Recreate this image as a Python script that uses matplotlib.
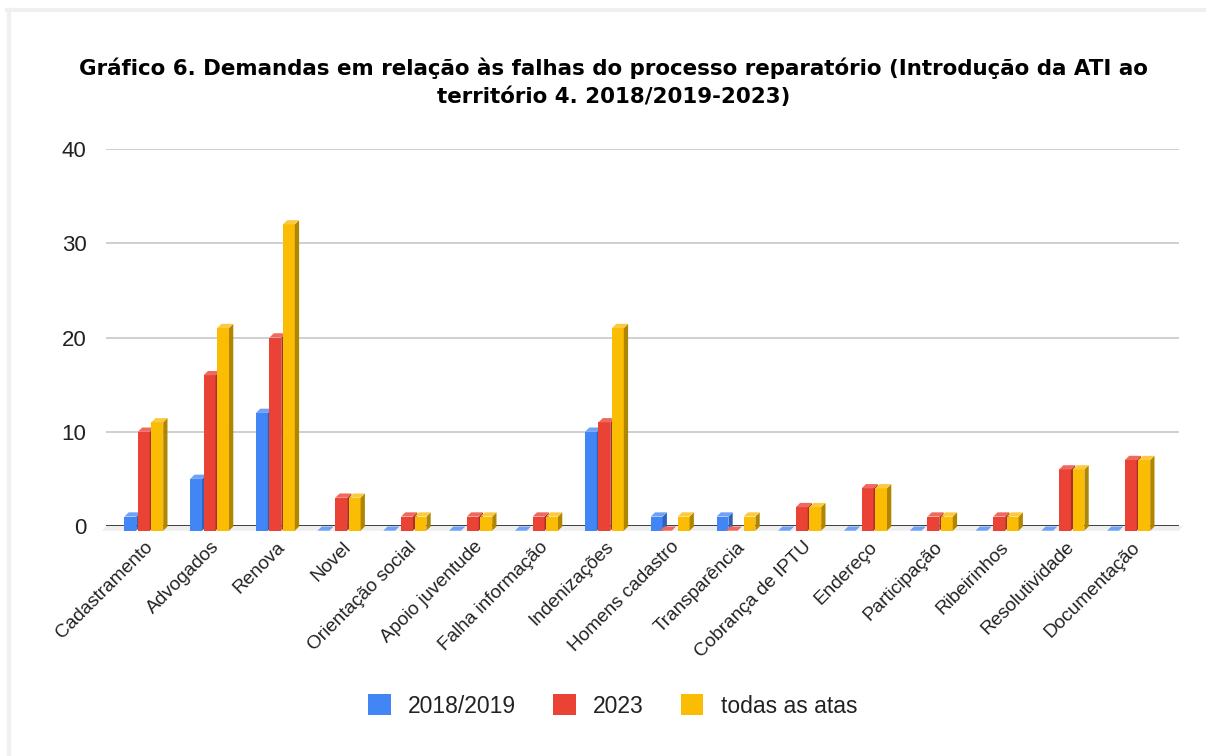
import numpy as np
import matplotlib.pyplot as plt
from matplotlib.patches import Polygon, Patch
from matplotlib.lines import Line2D

# Dados do gráfico
categorias = ['Cadastramento', 'Advogados', 'Renova', 'Novel', 'Orientação social',
              'Apoio juventude', 'Falha informação', 'Indenizações', 'Homens cadastro',
              'Transparência', 'Cobrança de IPTU', 'Endereço', 'Participação',
              'Ribeirinhos', 'Resolutividade', 'Documentação']
v_2018_2019 = [1, 5, 12, 0, 0, 0, 0, 10, 1, 1, 0, 0, 0, 0, 0, 0]
v_2023 = [10, 16, 20, 3, 1, 1, 1, 11, 0, 0, 2, 4, 1, 1, 6, 7]
v_todas = [11, 21, 32, 3, 1, 1, 1, 21, 1, 1, 2, 4, 1, 1, 6, 7]
series_nomes = ['2018/2019', '2023', 'todas as atas']
y_ticks = [0, 10, 20, 30, 40]

cores = ['#4285F4', '#EA4335', '#FBBC04']
cores_lado = ['#2d62b8', '#a8302a', '#b08500']
cores_topo = ['#6fa2f7', '#f0695f', '#fcca40']

W, H = 1206, 756
fig = plt.figure(figsize=(W / 100, H / 100), dpi=100)
fig.patch.set_facecolor('white')

# moldura cinza clara
fig.add_artist(Line2D([7 / W, 1], [1 - 10 / H, 1 - 10 / H], color='#f0f0f0', lw=3))
fig.add_artist(Line2D([9 / W, 9 / W], [0, 1 - 10 / H], color='#f0f0f0', lw=3))

ax = fig.add_axes([106 / W, (H - 526) / H, (1179 - 106) / W, (526 - 149) / H])
ax.set_xlim(-0.607, 15.70)
ax.set_ylim(0, 40)

for s in ax.spines.values():
    s.set_visible(False)
ax.set_yticks(y_ticks)
ax.yaxis.grid(True, color='#cccccc', lw=1.3)
ax.set_axisbelow(True)
ax.tick_params(axis='y', length=0, pad=14, labelsize=16, labelcolor='#222222')
ax.tick_params(axis='x', length=0, pad=9)

base = -0.5
xmin, xmax = ax.get_xlim()
# piso cinza
ax.add_patch(Polygon([(xmin - 0.06, base), (xmax, base), (xmax + 0.06, 0), (xmin, 0)],
                     closed=True, color='#eeeeee', lw=0, clip_on=False, zorder=1))
ax.axhline(0, color='#333333', lw=2, zorder=2)

x = np.arange(len(categorias))
largura = 0.18
offsets = [-0.205, 0.0, 0.205]
dx, dy = 0.065, 0.45
valores = [v_2018_2019, v_2023, v_todas]

for k, vals in enumerate(valores):
    for i, v in enumerate(vals):
        x0 = x[i] + offsets[k] - largura / 2 - dx / 2
        x1 = x0 + largura
        if v > 0:
            ax.add_patch(Polygon([(x0, base), (x1, base), (x1, v), (x0, v)], closed=True,
                                 color=cores[k], lw=0, zorder=3, clip_on=False))
            ax.add_patch(Polygon([(x1, base), (x1 + dx, base + dy), (x1 + dx, v + dy), (x1, v)],
                                 closed=True, color=cores_lado[k], lw=0, zorder=3, clip_on=False))
            ax.add_patch(Polygon([(x0, v), (x1, v), (x1 + dx, v + dy), (x0 + dx, v + dy)],
                                 closed=True, color=cores_topo[k], lw=0, zorder=3, clip_on=False))
        else:
            ax.add_patch(Polygon([(x0 - dx, base), (x1 - dx, base), (x1, base + dy), (x0, base + dy)],
                                 closed=True, color=cores_topo[k], lw=0, zorder=3, clip_on=False))

ax.set_xticks(x - 0.02)
ax.set_xticklabels(categorias, rotation=45, ha='right', rotation_mode='anchor',
                   fontsize=13.7, color='#222222', family='Liberation Sans')
for lab in ax.get_yticklabels():
    lab.set_family('Liberation Sans')

fig.text(0.509, 1 - 68 / H, 'Gráfico 6. Demandas em relação às falhas do processo reparatório (Introdução da ATI ao',
         ha='center', va='center', fontsize=15.4, fontweight='bold', color='black')
fig.text(0.509, 1 - 97 / H, 'território 4. 2018/2019-2023)',
         ha='center', va='center', fontsize=15.4, fontweight='bold', color='black')

handles = [Patch(facecolor=c, edgecolor='none') for c in cores]
fig.legend(handles, series_nomes, loc='center', bbox_to_anchor=(0.508, 1 - 706 / H), ncol=3,
           frameon=False, handlelength=1.0, handleheight=1.0, handletextpad=0.75,
           columnspacing=1.6, prop={'family': 'Liberation Sans', 'size': 16.5})
for t in fig.legends[0].get_texts():
    t.set_color('#222222')

fig.savefig('out.png', dpi=100, facecolor='white')
